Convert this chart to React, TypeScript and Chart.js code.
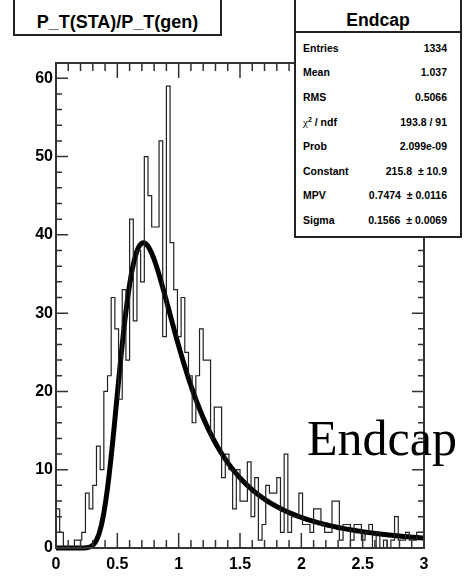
import React, { useEffect, useRef } from "react";
import { Chart, registerables } from "chart.js";

Chart.register(...registerables);

// Histogram P_T(STA)/P_T(gen), 100 bins between 0 and 3
const binLow = 0;
const binHigh = 3;
const binCounts = [
  4, 5, 2, 0, 0, 0, 1, 1, 2, 7,
  5, 8, 13, 10, 20, 22, 32, 28, 19, 33,
  24, 42, 29, 38, 34, 50, 45, 41, 41, 52,
  27, 59, 39, 33, 27, 32, 25, 22, 16, 22,
  28, 24, 24, 14, 18, 18, 9, 12, 10, 5,
  10, 6, 6, 11, 4, 9, 1, 3, 8, 7,
  7, 9, 2, 12, 2, 4, 4, 7, 3, 3,
  2, 5, 5, 3, 2, 2, 6, 6, 1, 3,
  3, 1, 3, 3, 1, 2, 3, 0, 2, 0,
  1, 0, 1, 4, 1, 1, 2, 1, 1, 2,
];

const yMax = 61.95;

const xTickValues = [0, 0.5, 1, 1.5, 2, 2.5, 3];
const xTickLabels = ["0", "0.5", "1", "1.5", "2", "2.5", "3"];
const yTickValues = [0, 10, 20, 30, 40, 50, 60];
const yTickLabels = ["0", "10", "20", "30", "40", "50", "60"];

const histTitle = "P_T(STA)/P_T(gen)";
const statsTitle = "Endcap";
const statNames = ["Entries", "Mean", "RMS", "χ2 / ndf", "Prob", "Constant", "MPV", "Sigma"];
const statValues = [
  "1334",
  "1.037",
  "0.5066",
  "193.8 / 91",
  "2.099e-09",
  "215.8  \u00b1 10.9",
  "0.7474  \u00b1 0.0116",
  "0.1566  \u00b1 0.0069",
];
const overlayText = "Endcap";

// Landau fit parameters (from the stats box)
const fitConstant = 215.8;
const fitMPV = 0.7474;
const fitSigma = 0.1566;
const fitPoints = 300;

// ROOT / CERNLIB DENLAN Landau density (non-normalised, as TMath::Landau)
function landauPdf(v: number): number {
  const p1 = [0.4259894875, -0.124976255, 0.039842437, -0.006298287635, 0.001511162253];
  const q1 = [1.0, -0.3388260629, 0.09594393323, -0.01608042283, 0.003778942063];
  const p2 = [0.1788541609, 0.1173957403, 0.01488850518, -0.001394989411, 0.0001283617211];
  const q2 = [1.0, 0.7428795082, 0.3153932961, 0.06694219548, 0.008790609714];
  const p3 = [0.1788544503, 0.09359161662, 0.006325387654, 0.00006611667319, -0.000002031049101];
  const q3 = [1.0, 0.6097809921, 0.2560616665, 0.04746722384, 0.006957301675];
  const p4 = [0.9874054407, 118.6723273, 849.279436, -743.7792444, 427.0262186];
  const q4 = [1.0, 106.8615961, 337.6496214, 2016.712389, 1597.063511];
  const p5 = [1.003675074, 167.5702434, 4789.711289, 21217.86767, -22324.9491];
  const q5 = [1.0, 156.9424537, 3745.310488, 9834.698876, 66924.28357];
  const a1 = [0.04166666667, -0.01996527778, 0.02709538966];
  const poly = (c: number[], t: number) => c[0] + (c[1] + (c[2] + (c[3] + c[4] * t) * t) * t) * t;
  if (v < -5.5) {
    const u = Math.exp(v + 1.0);
    if (u < 1e-10) return 0;
    const ue = Math.exp(-1 / u);
    const us = Math.sqrt(u);
    return 0.3989422803 * (ue / us) * (1 + (a1[0] + (a1[1] + a1[2] * u) * u) * u);
  } else if (v < -1) {
    const u = Math.exp(-v - 1);
    return Math.exp(-u) * Math.sqrt(u) * poly(p1, v) / poly(q1, v);
  } else if (v < 1) {
    return poly(p2, v) / poly(q2, v);
  } else if (v < 5) {
    return poly(p3, v) / poly(q3, v);
  } else if (v < 12) {
    const u = 1 / v;
    return u * u * poly(p4, u) / poly(q4, u);
  } else {
    const u = 1 / v;
    return u * u * poly(p5, u) / poly(q5, u);
  }
}

const FONT_SANS = "'Liberation Sans', Arial, Helvetica, sans-serif";

const framePlugin = {
  id: "rootFrame",
  afterDatasetsDraw(chart: any) {
    const { ctx, chartArea: a, scales } = chart;
    const xs = scales.x;
    const ys = scales.y;
    ctx.save();
    ctx.strokeStyle = "#333";
    ctx.lineWidth = 1.5;
    ctx.beginPath();
    for (let k = 0; k <= 30; k++) {
      const v = k * 0.1;
      const px = xs.getPixelForValue(v);
      const len = k % 5 === 0 ? 15 : 8;
      ctx.moveTo(px, a.bottom);
      ctx.lineTo(px, a.bottom - len);
      ctx.moveTo(px, a.top);
      ctx.lineTo(px, a.top + len);
    }
    for (let k = 0; k <= 30; k++) {
      const v = k * 2;
      const py = ys.getPixelForValue(v);
      const len = k % 5 === 0 ? 12 : 6;
      ctx.moveTo(a.left, py);
      ctx.lineTo(a.left + len, py);
      ctx.moveTo(a.right, py);
      ctx.lineTo(a.right - len, py);
    }
    ctx.stroke();
    ctx.lineWidth = 2;
    ctx.strokeRect(a.left, a.top, a.right - a.left, a.bottom - a.top);
    ctx.restore();
  },
};

function ChartCanvas() {
  const ref = useRef<HTMLCanvasElement | null>(null);
  useEffect(() => {
    if (!ref.current) return;
    const nb = binCounts.length;
    const bw = (binHigh - binLow) / nb;
    const histPts: { x: number; y: number }[] = [{ x: binLow, y: 0 }];
    binCounts.forEach((c, i) => histPts.push({ x: binLow + i * bw, y: c }));
    histPts.push({ x: binHigh, y: binCounts[nb - 1] });
    histPts.push({ x: binHigh, y: 0 });

    const fitPts: { x: number; y: number }[] = [];
    for (let i = 0; i <= fitPoints; i++) {
      const x = binLow + ((binHigh - binLow) * i) / fitPoints;
      fitPts.push({ x, y: fitConstant * landauPdf((x - fitMPV) / fitSigma) });
    }

    const chart = new Chart(ref.current, {
      type: "line",
      data: {
        datasets: [
          {
            data: histPts,
            stepped: "after",
            borderColor: "#222",
            borderWidth: 1.2,
            pointRadius: 0,
            fill: false,
          } as any,
          {
            data: fitPts,
            borderColor: "#000",
            borderWidth: 5,
            pointRadius: 0,
            tension: 0,
            fill: false,
            clip: { left: 4, right: 4, top: 0, bottom: 4 },
          } as any,
        ],
      },
      options: {
        animation: false,
        responsive: false,
        maintainAspectRatio: false,
        layout: { padding: { left: 0, right: 47, top: 63, bottom: 0 } },
        plugins: { legend: { display: false }, tooltip: { enabled: false } },
        scales: {
          x: {
            type: "linear",
            min: binLow,
            max: binHigh,
            afterFit: (s: any) => {
              s.height = 29;
            },
            grid: { display: false, drawTicks: false },
            border: { display: false },
            ticks: {
              stepSize: 0.5,
              autoSkip: false,
              maxRotation: 0,
              padding: 7,
              color: "#000",
              font: { family: FONT_SANS, size: 16, weight: "bold" },
              callback: (v: any) => {
                const i = xTickValues.findIndex((t) => Math.abs(t - Number(v)) < 1e-6);
                return i >= 0 ? xTickLabels[i] : "";
              },
            },
          },
          y: {
            type: "linear",
            min: 0,
            max: yMax,
            afterFit: (s: any) => {
              s.width = 56;
            },
            grid: { display: false, drawTicks: false },
            border: { display: false },
            ticks: {
              stepSize: 10,
              includeBounds: false,
              autoSkip: false,
              padding: 3,
              color: "#000",
              font: { family: FONT_SANS, size: 16, weight: "bold" },
              callback: (v: any) => {
                const i = yTickValues.findIndex((t) => Math.abs(t - Number(v)) < 1e-6);
                return i >= 0 ? yTickLabels[i] : "";
              },
            },
          },
        },
      } as any,
      plugins: [framePlugin],
    });
    return () => chart.destroy();
  }, []);
  return <canvas ref={ref} width={471} height={577} style={{ display: "block" }} />;
}

function baselineTop(baseline: number, size: number, lh: number) {
  return baseline - ((lh - 1.117 * size) / 2 + 0.905 * size);
}

export default function App() {
  const line = "#222";
  const rowBaselines = [52, 76.6, 101.2, 125.8, 150.4, 175, 199.6, 224.2];
  return (
    <div
      style={{
        position: "absolute",
        left: 0,
        top: 0,
        width: 471,
        height: 577,
        background: "#fff",
        overflow: "hidden",
      }}
    >
      <ChartCanvas />
      {/* title box */}
      <div
        style={{
          position: "absolute",
          left: 13,
          top: -5,
          width: 209,
          height: 41,
          boxSizing: "border-box",
          border: `2px solid ${line}`,
          background: "#fff",
        }}
      />
      <div
        style={{
          position: "absolute",
          left: 13,
          width: 209,
          top: baselineTop(28.3, 18, 22),
          height: 22,
          lineHeight: "22px",
          textAlign: "center",
          fontFamily: FONT_SANS,
          fontWeight: "bold",
          fontSize: 18,
          color: "#000",
          whiteSpace: "nowrap",
        }}
      >
        {histTitle}
      </div>
      {/* stats box */}
      <div
        style={{
          position: "absolute",
          left: 294,
          top: -5,
          width: 168,
          height: 243,
          boxSizing: "border-box",
          border: `2px solid ${line}`,
          background: "#fff",
        }}
      />
      <div style={{ position: "absolute", left: 294, top: 31, width: 168, height: 2, background: line }} />
      <div
        style={{
          position: "absolute",
          left: 294,
          width: 168,
          top: baselineTop(26.5, 17.6, 22),
          height: 22,
          lineHeight: "22px",
          textAlign: "center",
          fontFamily: FONT_SANS,
          fontWeight: "bold",
          fontSize: 17.6,
          color: "#000",
        }}
      >
        {statsTitle}
      </div>
      {statNames.map((n, i) => (
        <React.Fragment key={n}>
          <div
            style={{
              position: "absolute",
              left: 303,
              top: baselineTop(rowBaselines[i], 10.5, 13),
              height: 13,
              lineHeight: "13px",
              fontFamily: FONT_SANS,
              fontWeight: "bold",
              fontSize: 10.5,
              color: "#000",
              whiteSpace: "pre",
            }}
          >
            {n.startsWith("χ") ? (
              <>
                <span style={{ fontWeight: "normal", fontFamily: "'Liberation Serif', serif", fontSize: 11 }}>χ</span>
                <span style={{ fontSize: 7, position: "relative", top: -4 }}>2</span>
                {" / ndf"}
              </>
            ) : (
              n
            )}
          </div>
          <div
            style={{
              position: "absolute",
              right: 471 - 447,
              top: baselineTop(rowBaselines[i], 10.5, 13),
              height: 13,
              lineHeight: "13px",
              fontFamily: FONT_SANS,
              fontWeight: "bold",
              fontSize: 10.5,
              color: "#000",
              whiteSpace: "pre",
              textAlign: "right",
            }}
          >
            {statValues[i]}
          </div>
        </React.Fragment>
      ))}
      {/* overlay label */}
      <div
        style={{
          position: "absolute",
          left: 307,
          top: 455 - ((60 - 1.107 * 50) / 2 + 0.891 * 50),
          height: 60,
          lineHeight: "60px",
          fontFamily: "'Liberation Serif', 'Times New Roman', serif",
          fontSize: 50,
          color: "#000",
          whiteSpace: "nowrap",
        }}
      >
        {overlayText}
      </div>
    </div>
  );
}
